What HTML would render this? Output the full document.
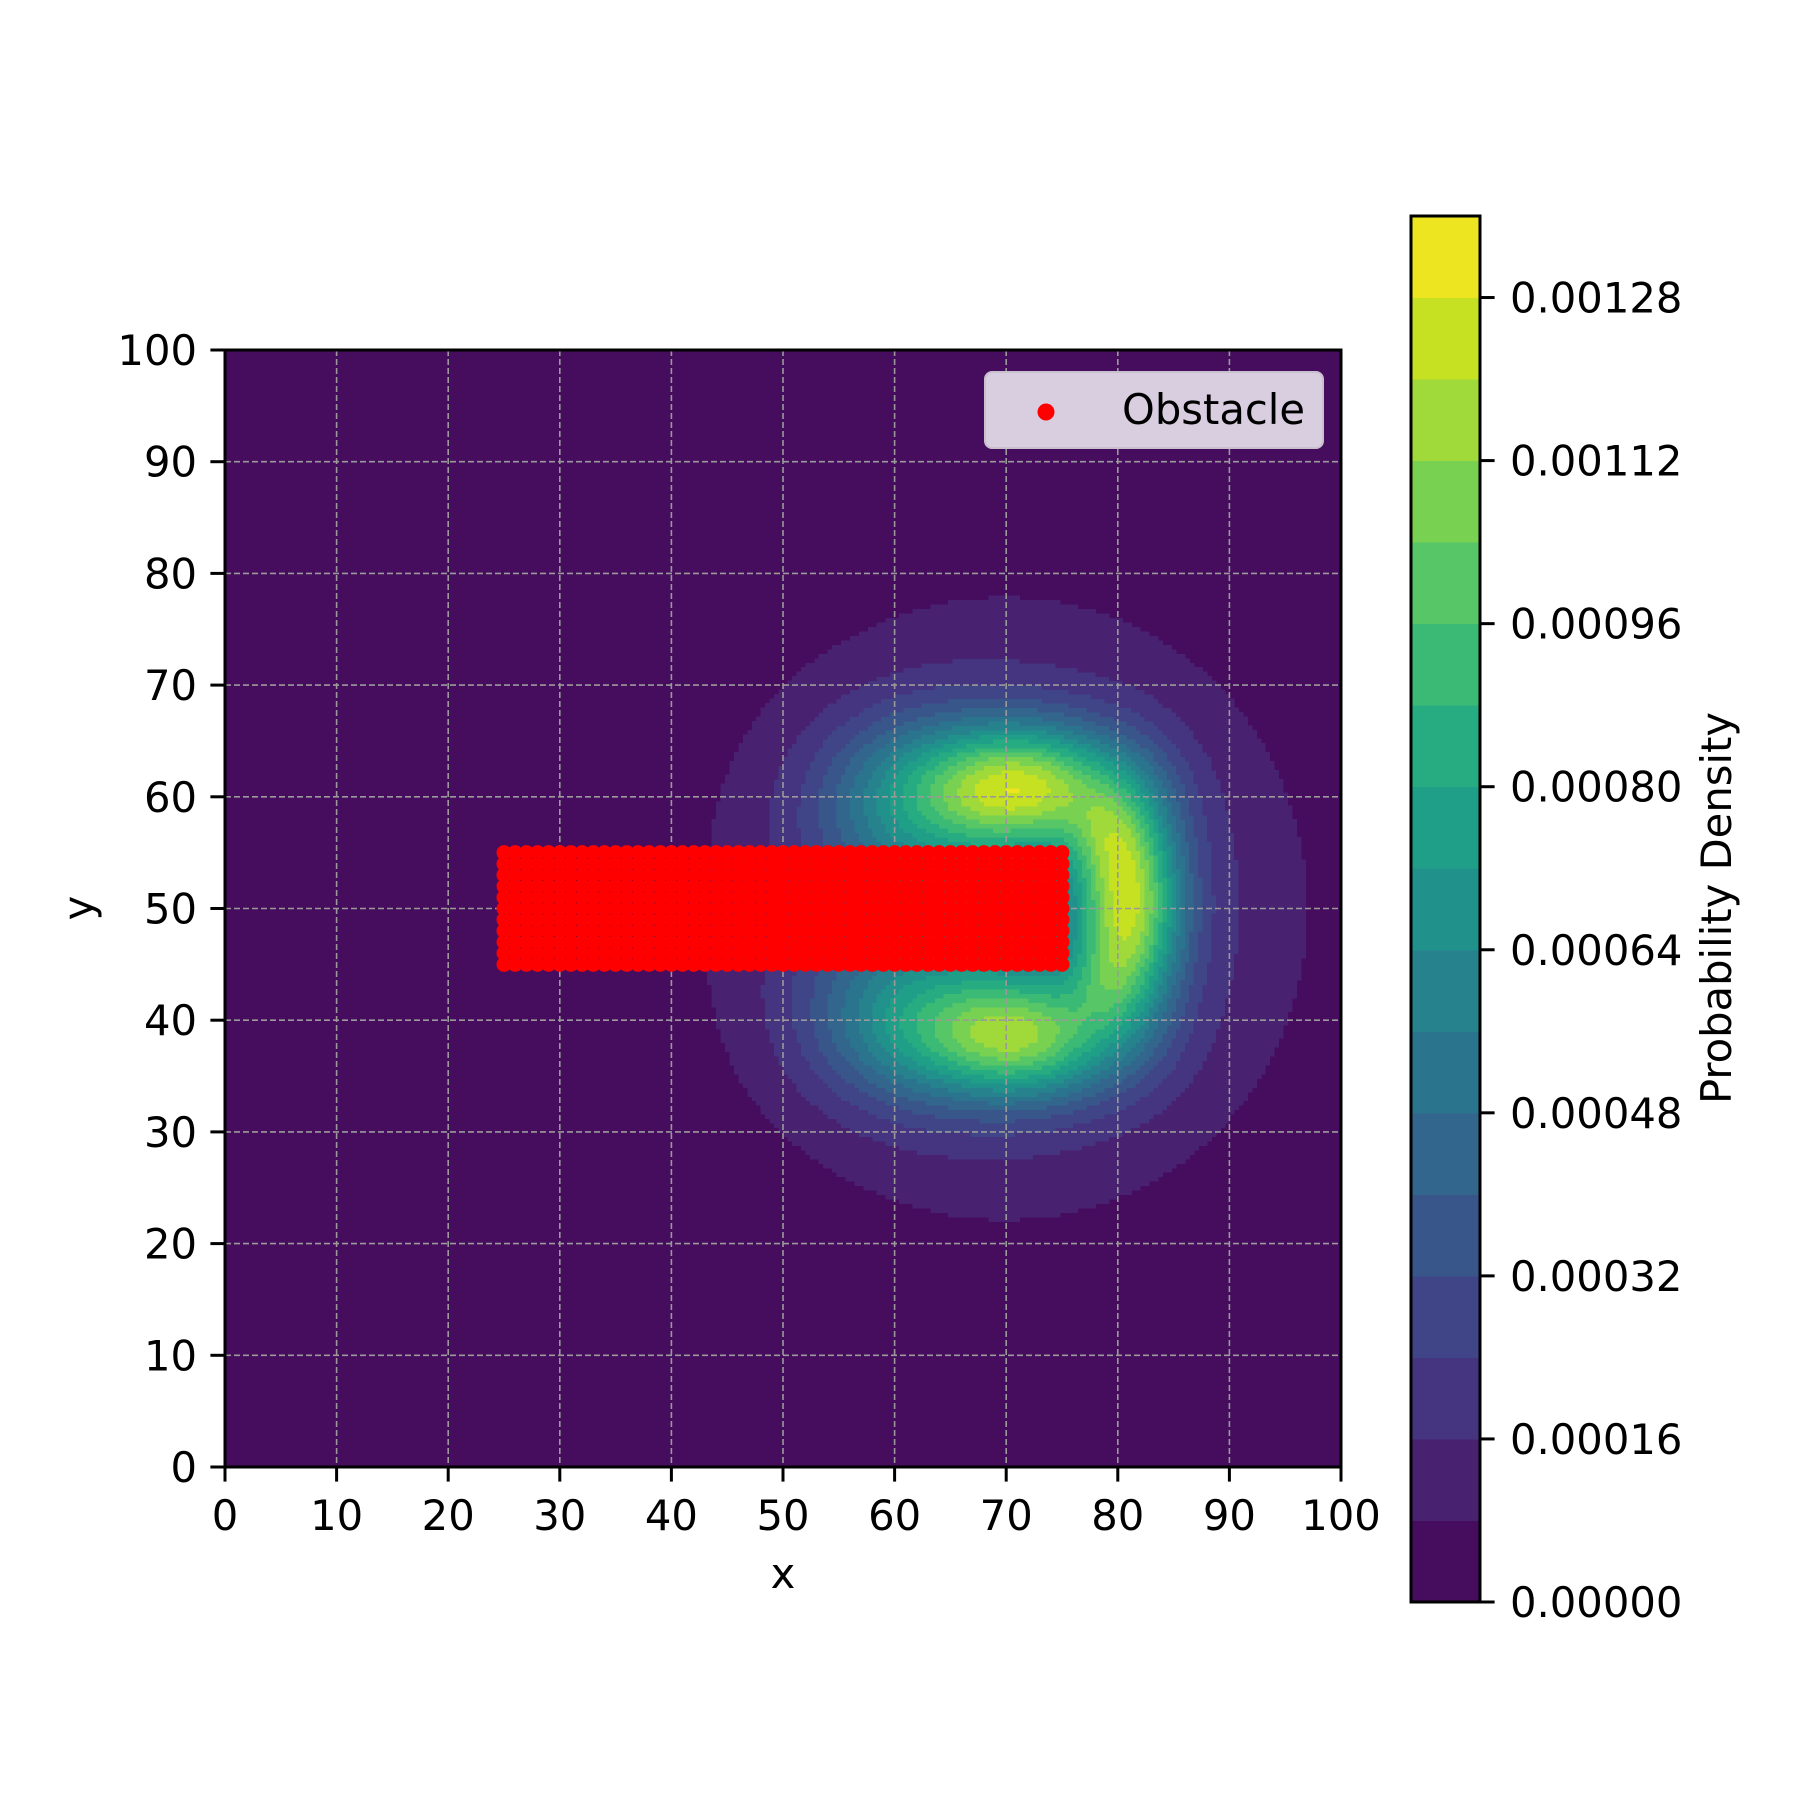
<!DOCTYPE html>
<html><head><meta charset="utf-8"><style>
html,body{margin:0;padding:0;background:#fff}
svg{display:block}
text{font-family:"DejaVu Sans","Liberation Sans",sans-serif;fill:#000}
</style></head><body>
<svg id="chart" width="1800" height="1800" viewBox="0 0 1800 1800" xmlns="http://www.w3.org/2000/svg">
<defs><clipPath id="plotclip"><rect x="225" y="350" width="1116" height="1117"/></clipPath></defs>
<g id="heat" clip-path="url(#plotclip)"></g>
<g id="grid"></g>
<g id="obstacle" clip-path="url(#plotclip)"></g>
<rect x="225" y="350" width="1116" height="1117" fill="none" stroke="#000" stroke-width="3"/>
<g id="ticks"></g>
<text x="783" y="1588" font-size="41.7" text-anchor="middle">x</text>
<text x="0" y="0" font-size="41.7" text-anchor="middle" transform="translate(93,908) rotate(-90)">y</text>
<g>
<rect x="985" y="372" width="338" height="76" rx="7" fill="#d9cde0" stroke="#c8c0cc" stroke-width="2"/>
<circle cx="1046" cy="412" r="8.5" fill="#ff0000"/>
<text x="1122" y="424" font-size="41.7">Obstacle</text>
</g>
<g id="cbar"></g>
<rect x="1411" y="216" width="69" height="1386" fill="none" stroke="#000" stroke-width="3"/>
<text x="0" y="0" font-size="41.7" text-anchor="middle" transform="translate(1731,908) rotate(-90)">Probability Density</text>
</svg>
<script>
// ---- data ----
const blobX = [70, 72, 62, 71.5, 61, 81, 79, 79];
const blobY = [50, 61, 60, 38.5, 40, 50.5, 56.5, 43.5];
const blobSX = [15, 6, 6, 6, 6, 3.2, 2.5, 2.5];
const blobSY = [15.5, 3.8, 5, 3.8, 5, 6.5, 3, 3];
const blobAmp = [0.0004, 0.00085, 0.0004, 0.00078, 0.0004, 0.00092, 0.00018, 0.00018];
const levelStep = 0.00008;
const levelCount = 17;
const cbarTicks = [0, 0.00016, 0.00032, 0.00048, 0.00064, 0.0008, 0.00096, 0.00112, 0.00128];
const cbarTickLabels = ["0.00000","0.00016","0.00032","0.00048","0.00064","0.00080","0.00096","0.00112","0.00128"];
const axisTicks = [0,10,20,30,40,50,60,70,80,90,100];
const obstacleX = [25, 75];
const obstacleY = [45, 55];
const obstacleSpacing = 1;

// ---- scales ----
const NS = "http://www.w3.org/2000/svg";
const PX0=225, PW=1116, PY1=1467, PH=1117;
const sx = v => PX0 + v * PW/100;
const sy = v => PY1 - v * PH/100;
const vmax = levelStep * levelCount;
const CB0=1602, CBH=1386;
const cy = v => CB0 - v / vmax * CBH;
const stops = ["#440154","#48186a","#472d7b","#424086","#3b528b","#33638d","#2c728e","#26828e","#21918c","#1fa088","#28ae80","#3fbc73","#5ec962","#84d44b","#addc30","#d8e219","#fde725"];
function hex(h){return [1,3,5].map(i=>parseInt(h.substr(i,2),16));}
function viridis(t){
  const p = Math.max(0,Math.min(1,t))*(stops.length-1);
  const i = Math.min(stops.length-2, Math.floor(p)), f = p-i;
  const a = hex(stops[i]), b = hex(stops[i+1]);
  return "rgb("+a.map((c,k)=>Math.round(c+(b[k]-c)*f)).join(",")+")";
}
const levelColors = [];
for (let i=0;i<levelCount;i++) levelColors.push(viridis((i+0.5)/levelCount));
function density(x,y){
  let s=0;
  for (let k=0;k<blobX.length;k++){
    const dx=(x-blobX[k])/blobSX[k], dy=(y-blobY[k])/blobSY[k];
    s += blobAmp[k]*Math.exp(-0.5*(dx*dx+dy*dy));
  }
  return s;
}
function mk(tag, attrs, parent){
  const e=document.createElementNS(NS,tag);
  for (const k in attrs) e.setAttribute(k, attrs[k]);
  parent.appendChild(e); return e;
}
// ---- heatmap ----
const heat = document.getElementById('heat');
const bg = mk('rect',{x:PX0,y:350,width:PW,height:PH,fill:levelColors[0]},heat);


const res = 0.4, N = Math.round(100/res);
for (let j=0;j<N;j++){
  const yc=(j+0.5)*res;
  let runStart=0, runLvl=-1;
  for (let i=0;i<=N;i++){
    let lvl=-2;
    if (i<N){ lvl=Math.min(levelCount-1, Math.floor(density((i+0.5)*res,yc)/levelStep)); }
    if (lvl!==runLvl){
      if (runLvl>0){
        const x0=sx(runStart*res), x1=sx(i*res);
        const r = mk('rect',{x:x0.toFixed(2),y:sy((j+1)*res).toFixed(2),width:(x1-x0+0.6).toFixed(2),height:(res*PH/100+0.6).toFixed(2),fill:levelColors[runLvl],'shape-rendering':'crispEdges'},heat);
        
        
      }
      runStart=i; runLvl=lvl;
    }
  }
}
// ---- grid & ticks ----
const grid=document.getElementById('grid'), ticks=document.getElementById('ticks');
axisTicks.forEach(t=>{
  if (t>0 && t<100){
    const gv=mk('line',{x1:sx(t),x2:sx(t),y1:350,y2:PY1,stroke:'#9a9a9a','stroke-width':1.6,'stroke-dasharray':'6 3'},grid);
    
    
    const gh=mk('line',{x1:PX0,x2:PX0+PW,y1:sy(t),y2:sy(t),stroke:'#9a9a9a','stroke-width':1.6,'stroke-dasharray':'6 3'},grid);
    
    
  }
  const tx=mk('line',{x1:sx(t),x2:sx(t),y1:PY1,y2:PY1+14.6,stroke:'#000','stroke-width':3},ticks);
  
  
  const lx=mk('text',{x:sx(t),y:1530,'font-size':41.7,'text-anchor':'middle'},ticks);
  lx.textContent=t;
  
  
  const ty=mk('line',{x1:PX0-14.6,x2:PX0,y1:sy(t),y2:sy(t),stroke:'#000','stroke-width':3},ticks);
  
  
  const ly=mk('text',{x:197,y:sy(t)+15,'font-size':41.7,'text-anchor':'end'},ticks);
  ly.textContent=t;
  
  
});
// ---- obstacle ----
const obs=document.getElementById('obstacle');
for (let x=obstacleX[0]; x<=obstacleX[1]+1e-9; x+=obstacleSpacing){
  for (let y=obstacleY[0]; y<=obstacleY[1]+1e-9; y+=obstacleSpacing){
    const c=mk('circle',{cx:sx(x),cy:sy(y),r:7.5,fill:'#ff0000'},obs);
    
    
  }
}
// ---- colorbar ----
const cb=document.getElementById('cbar');
for (let i=0;i<levelCount;i++){
  const y0=cy((i+1)*levelStep), y1=cy(i*levelStep);
  const r=mk('rect',{x:1411,y:y0,width:69,height:y1-y0+0.5,fill:levelColors[i],'shape-rendering':'crispEdges'},cb);
  
  
}
cbarTicks.forEach((v,i)=>{
  const l=mk('line',{x1:1480,x2:1494.6,y1:cy(v),y2:cy(v),stroke:'#000','stroke-width':3},cb);
  
  
  const t=mk('text',{x:1510,y:cy(v)+15,'font-size':41.7},cb);
  t.textContent=cbarTickLabels[i];
  
  
});
</script>
</body></html>
